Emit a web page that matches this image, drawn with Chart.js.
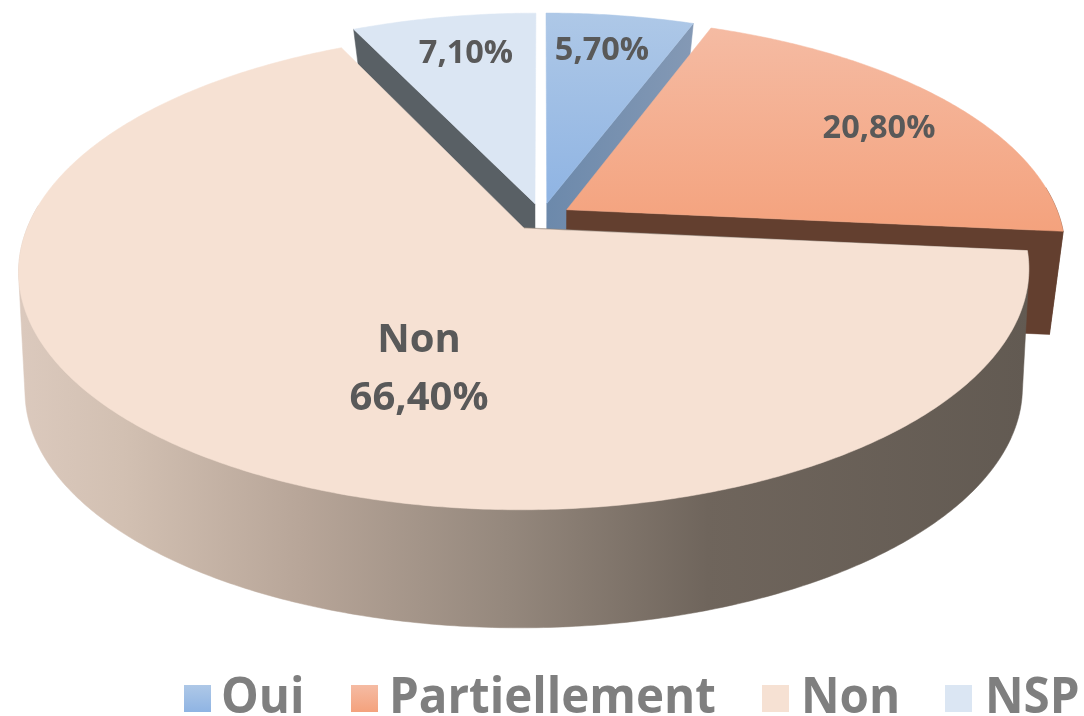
<!DOCTYPE html>
<html><head><meta charset="utf-8">
<style>html,body{margin:0;padding:0;background:#fff;overflow:hidden}canvas{display:block}</style>
<script src="https://cdn.jsdelivr.net/npm/chart.js@4"></script>
</head><body>
<canvas id="c" width="1084" height="716"></canvas>
<script>
const categories = ["Oui", "Partiellement", "Non", "NSP"];
const shares = [5.7, 20.8, 66.4, 7.1];
const shareLabels = ["5,70%", "20,80%", "66,40%", "7,10%"];

const palette = [
  {top:["#aec8e7","#8fb4e3"], wall:["#6c89ab","#8499b5"], rim:["#8499b5","#6c89ab"], flat:"#9dbce5"},
  {top:["#f5bba3","#f4a27d"], wall:["#633f2f","#633f2f"], rim:["#633f2f","#633f2f"], flat:"#f5ac8c"},
  {top:["#f6e1d3","#f6e1d3"], wall:["#5f574f","#5f574f"], rim:null, flat:"#f6e1d3"},
  {top:["#dbe6f3","#dbe6f3"], wall:["#596065","#596065"], rim:["#596065","#596065"], flat:"#dbe6f3"}
];
const rimStops = [[0,"#dbc9bd"],[0.1,"#d2c0b2"],[0.28,"#b7a598"],[0.48,"#95887d"],[0.68,"#6f655c"],[1,"#625a52"]];
const paintOrder = [0,1,3,2];

// perspective of the disc: top face and bottom face
const topFace = {cx:541.5, cy:217, A:493, B:228, p:0.174};
const botFace = {cx:541.5, cy:320.6, A:478, B:219, p:0.24};
const project = (f,u,v)=>{const w=1-f.p*v;return [f.cx+f.A*u/w, f.cy+f.B*v/w];};

function arcPts(face,a0,a1,ox,oy){
  const n=Math.max(4,Math.ceil((a1-a0)/0.01)), out=[];
  for(let i=0;i<=n;i++){const a=a0+(a1-a0)*i/n;out.push(project(face,ox+Math.cos(a),oy+Math.sin(a)));}
  return out;
}
function hull(points){
  const s=points.slice().sort((a,b)=>a[0]-b[0]||a[1]-b[1]);
  const cross=(o,a,b)=>(a[0]-o[0])*(b[1]-o[1])-(a[1]-o[1])*(b[0]-o[0]);
  const half=list=>{const h=[];list.forEach(p=>{while(h.length>1&&cross(h[h.length-2],h[h.length-1],p)<=0)h.pop();h.push(p);});h.pop();return h;};
  return half(s).concat(half(s.slice().reverse()));
}
function poly(ctx,pts,fill){
  ctx.beginPath();pts.forEach((p,i)=>i?ctx.lineTo(p[0],p[1]):ctx.moveTo(p[0],p[1]));ctx.closePath();
  ctx.fillStyle=fill;ctx.fill();ctx.strokeStyle=fill;ctx.lineWidth=0.5;ctx.stroke();
}
function hGrad(ctx,pts,c){
  const xs=pts.map(p=>p[0]),g=ctx.createLinearGradient(Math.min(...xs),0,Math.max(...xs),0);
  g.addColorStop(0,c[0]);g.addColorStop(1,c[1]);return g;
}
function paintWedge(arc,ctx){
  const pal=palette[arc.$context.index];
  const a0=arc.startAngle,a1=arc.endAngle,mid=(a0+a1)/2;
  const e=arc.options.offset/arc.outerRadius;
  const ox=Math.cos(mid)*e,oy=Math.sin(mid)*e;
  const tArc=arcPts(topFace,a0,a1,ox,oy);
  const tC=project(topFace,ox,oy),bC=project(botFace,ox,oy);
  // radial walls that face the viewer
  [[a0,Math.cos(a0)<-1e-6],[a1,Math.cos(a1)>1e-6]].forEach(([a,show])=>{
    if(!show)return;
    const w=[tC,project(topFace,ox+Math.cos(a),oy+Math.sin(a)),project(botFace,ox+Math.cos(a),oy+Math.sin(a)),bC];
    poly(ctx,w,hGrad(ctx,w,pal.wall));
  });
  // outer rim, near side only: the hull of both rim arcs, top face covers the rest
  const ra0=Math.max(a0,-0.1),ra1=Math.min(a1,Math.PI+0.1);
  if(ra1>ra0){
    const rimPts=hull(arcPts(topFace,ra0,ra1,ox,oy).concat(arcPts(botFace,ra0,ra1,ox,oy)));
    let fill;
    if(pal.rim){fill=hGrad(ctx,rimPts,pal.rim);}
    else{
      fill=ctx.createLinearGradient(22,0,1030,0);
      rimStops.forEach(s=>fill.addColorStop(s[0],s[1]));
    }
    poly(ctx,rimPts,fill);
  }
  // top face
  const top=[tC].concat(tArc),ys=top.map(p=>p[1]);
  const g=ctx.createLinearGradient(0,Math.min(...ys),0,Math.max(...ys));
  g.addColorStop(0,pal.top[0]);g.addColorStop(1,pal.top[1]);
  poly(ctx,top,g);
}

// arc elements from the pie controller are painted as solid wedges, back ones first
let pending=[];
Chart.ArcElement.prototype.draw=function(ctx){
  pending[this.$context.index]=this;
  if(this.$context.index===categories.length-1){
    paintOrder.forEach(i=>paintWedge(pending[i],ctx));
    pending=[];
  }
};

const labelFont='"Open Sans", sans-serif';
const labelPlugin={
  id:'sliceLabels',
  afterDatasetsDraw(chart){
    const ctx=chart.ctx;
    ctx.save();ctx.fillStyle="#595959";ctx.textAlign="center";ctx.textBaseline="alphabetic";
    ctx.font='700 32.5px '+labelFont;
    ctx.fillText(shareLabels[0],602,60);
    ctx.fillText(shareLabels[1],879,138);
    ctx.fillText(shareLabels[3],466,63);
    ctx.font='700 40px '+labelFont;
    ctx.fillText(categories[2],419,352);
    ctx.fillText(shareLabels[2],419,410);
    ctx.restore();
  }
};
const legendSlots={box:[184,351,762,945],text:[221,389,801,985]};
const legendPlugin={
  id:'bottomLegend',
  afterDraw(chart){
    const ctx=chart.ctx;
    ctx.save();ctx.font='700 50px '+labelFont;ctx.textBaseline="alphabetic";ctx.textAlign="left";
    categories.forEach((c,i)=>{
      const g=ctx.createLinearGradient(0,685,0,712);
      g.addColorStop(0,palette[i].top[0]);g.addColorStop(1,palette[i].top[1]);
      ctx.fillStyle=g;ctx.fillRect(legendSlots.box[i],685,27,27);
      ctx.fillStyle="#7f7f7f";
      ctx.save();ctx.translate(legendSlots.text[i],713);ctx.scale(0.95,1);ctx.fillText(c,0,0);ctx.restore();
    });
    ctx.restore();
  }
};

new Chart(document.getElementById('c'),{
  type:'pie',
  data:{labels:categories,datasets:[{data:shares,backgroundColor:palette.map(p=>p.flat),borderWidth:0,offset:21}]},
  options:{responsive:false,animation:false,rotation:0,
    plugins:{legend:{display:false},tooltip:{enabled:false}}},
  plugins:[labelPlugin,legendPlugin]
});
</script>
</body></html>
